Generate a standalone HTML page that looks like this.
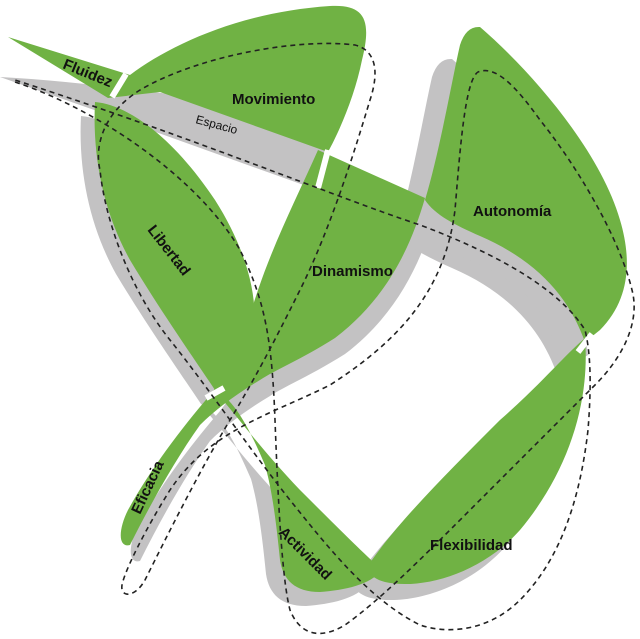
<!DOCTYPE html>
<html><head><meta charset="utf-8"><style>
html,body{margin:0;padding:0;background:#fff;width:640px;height:639px;overflow:hidden}
svg text{font-family:"Liberation Sans",sans-serif;font-weight:bold;fill:#111}
</style></head><body>
<svg width="640" height="639" viewBox="0 0 640 639" xmlns="http://www.w3.org/2000/svg">
<defs>
<path id="mov" d="M8,37 L130,75 C170,45 240,12 330,6 C365,4 372,20 362,60 C355,95 340,130 328,152 L160,92 L108,98 Z"/>
<path id="lib" d="M95,102 C130,105 175,140 215,200 C250,255 262,310 250,345 C240,365 228,378 216,392 C240,420 262,450 300,490 C330,520 360,550 382,570 C370,585 345,590 320,592 C295,592 283,580 280,560 C276,520 272,490 265,465 C250,430 235,400 215,390 C195,360 160,310 130,260 C105,215 92,160 95,102 Z"/>
<path id="din" d="M318,150 L425,198 C410,250 385,300 335,338 C300,360 275,370 260,380 C235,395 215,410 200,425 C175,460 150,505 130,545 C118,548 118,530 128,510 C150,470 180,430 210,395 C230,370 245,330 258,290 C275,240 298,195 318,150 Z"/>
<path id="aut" d="M425,200 C440,150 452,80 460,45 Q466,26 480,27 C530,70 600,150 620,220 C632,260 630,300 600,330 L585,342 C570,300 540,262 480,236 C455,225 435,215 425,200 Z"/>
<path id="flx" d="M585,338 C590,400 570,470 520,530 C480,575 420,590 385,582 C370,578 365,570 372,560 C400,520 450,470 500,420 C540,385 565,355 585,338 Z"/>
</defs>
<g fill="#c3c2c3">
<path d="M0,77 C60,80 120,88 170,94 L325,150 L312,188 L100,112 Z"/>
<use href="#lib" transform="translate(-14,14)"/>
<use href="#din" transform="translate(10,16)"/>
<use href="#aut" transform="translate(-28,32)"/>
<use href="#flx" transform="translate(-14,16)"/>
<path d="M420,200 C470,220 520,245 560,290 C578,310 585,330 588,355 L560,372 C555,330 540,300 500,275 C470,258 440,250 410,235 Z"/>
</g>
<g fill="#70b244">
<use href="#mov"/><use href="#lib"/><use href="#din"/><use href="#aut"/><use href="#flx"/>
</g>
<g stroke="#fff" stroke-width="6" fill="none">
<path d="M112,97 L126,74"/>
<path d="M318,188 L328,150"/>
<path d="M206,398 L224,388"/>
<path d="M265,445 L278,430"/>
<path d="M578,352 L592,334"/>
</g>
<g stroke="#222" stroke-width="1.6" stroke-dasharray="5,4" fill="none">
<path d="M15,82 C100,110 200,180 240,250 C265,300 272,340 275,420 C278,500 282,580 290,610 C300,635 320,640 345,625 C380,600 420,560 470,510 C520,460 560,420 595,385 C625,355 640,320 632,290 C620,240 580,170 540,120 C515,85 495,65 478,72 C465,80 460,150 455,210 C445,290 400,340 330,385 C270,415 210,430 170,490 C145,530 125,570 122,585 C120,598 135,598 145,580 C170,530 200,470 230,420 C260,370 280,330 300,290 C330,230 355,150 370,100 C380,70 375,50 355,45 C300,38 200,55 140,90 C100,115 95,150 100,170 C105,220 130,290 170,340 C210,390 250,450 290,500 C330,550 370,600 420,625 C450,635 490,630 520,600 C560,560 580,500 588,430 C592,380 590,350 585,330 C560,290 500,255 420,225 C330,195 200,140 15,80"/>
</g>
<text x="62" y="68" font-size="15" transform="rotate(22 62 68)">Fluidez</text>
<text x="232" y="104" font-size="15">Movimiento</text>
<text x="195" y="123" font-size="12" style="font-weight:normal" transform="rotate(15 195 123)">Espacio</text>
<text x="147" y="230" font-size="15" transform="rotate(52 147 230)">Libertad</text>
<text x="312" y="276" font-size="15">Dinamismo</text>
<text x="473" y="216" font-size="15">Autonomía</text>
<text x="140" y="515" font-size="15" transform="rotate(-65 140 515)">Eficacia</text>
<text x="278" y="533" font-size="15" transform="rotate(45 278 533)">Actividad</text>
<text x="430" y="550" font-size="15">Flexibilidad</text>
</svg>
</body></html>
